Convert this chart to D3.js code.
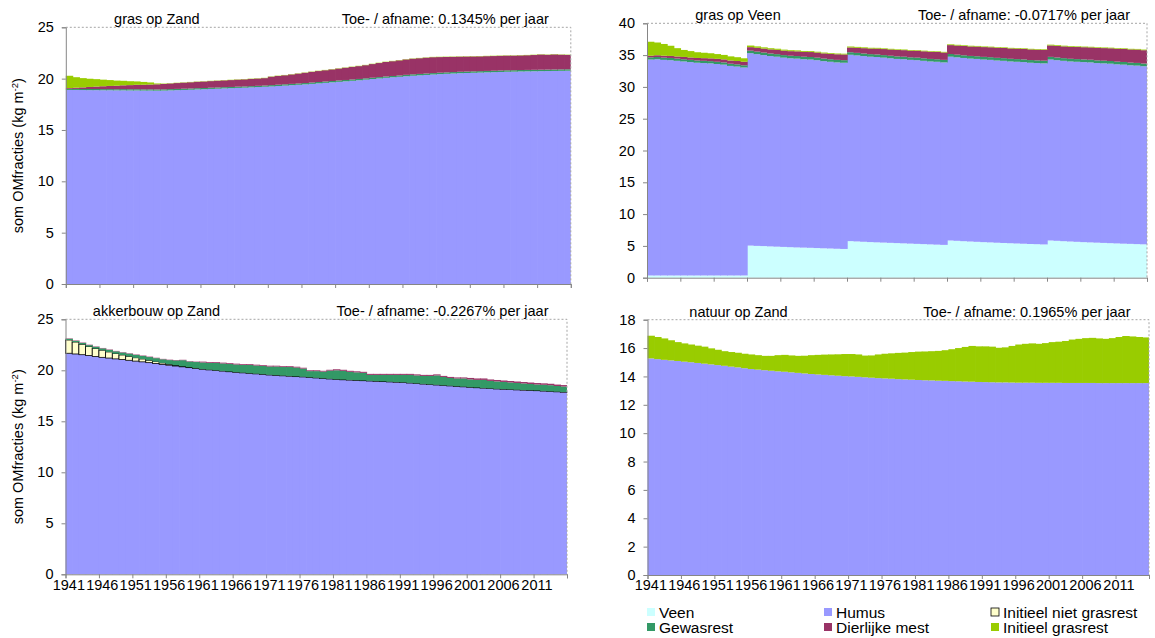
<!DOCTYPE html>
<html><head><meta charset="utf-8">
<script src="https://cdn.jsdelivr.net/npm/d3@7"></script>
<style>
body{margin:0;background:#fff}
text{font-family:"Liberation Sans",Arial,sans-serif;fill:#000}
</style>
</head><body>
<svg id="chart" width="1155" height="638"></svg>
<script>
// ---------- categories ----------
const years = [1941,1942,1943,1944,1945,1946,1947,1948,1949,1950,1951,1952,1953,1954,1955,1956,1957,1958,1959,1960,
1961,1962,1963,1964,1965,1966,1967,1968,1969,1970,1971,1972,1973,1974,1975,1976,1977,1978,1979,1980,
1981,1982,1983,1984,1985,1986,1987,1988,1989,1990,1991,1992,1993,1994,1995,1996,1997,1998,1999,2000,
2001,2002,2003,2004,2005,2006,2007,2008,2009,2010,2011,2012,2013,2014,2015];
const xTickLabels = [1941,1946,1951,1956,1961,1966,1971,1976,1981,1986,1991,1996,2001,2006,2011];
const seriesNames = ["Veen","Humus","Initieel niet grasrest","Gewasrest","Dierlijke mest","Initieel grasrest"];
const seriesColors = ["#CCFFFF","#9999FF","#FFFFCC","#339966","#993366","#99CC00"];
const yTicksZand = [0,5,10,15,20,25];
const yTicksVeen = [0,5,10,15,20,25,30,35,40];
const yTicksNatuur = [0,2,4,6,8,10,12,14,16,18];

// ---------- gras op Zand ----------
const zgHumus = [18.90,18.90,18.89,18.88,18.88,18.87,18.87,18.86,18.86,18.85,18.85,18.84,18.84,18.83,18.84,18.86,18.88,18.90,18.92,18.95,
18.97,19.00,19.02,19.05,19.07,19.10,19.12,19.15,19.18,19.21,19.24,19.28,19.32,19.36,19.40,19.44,19.49,19.54,19.59,19.64,
19.69,19.74,19.79,19.84,19.90,19.96,20.02,20.08,20.13,20.18,20.23,20.28,20.32,20.36,20.40,20.44,20.47,20.50,20.53,20.55,
20.57,20.59,20.61,20.63,20.65,20.67,20.68,20.70,20.71,20.72,20.73,20.74,20.75,20.76,20.77];
const zgGewas = [0.10,0.10,0.10,0.11,0.11,0.11,0.11,0.11,0.12,0.12,0.12,0.12,0.12,0.12,0.12,0.12,0.12,0.12,0.12,0.12,
0.12,0.12,0.12,0.12,0.12,0.12,0.12,0.12,0.12,0.12,0.13,0.13,0.13,0.13,0.13,0.13,0.13,0.13,0.13,0.13,
0.13,0.13,0.13,0.13,0.13,0.13,0.13,0.13,0.13,0.13,0.14,0.14,0.14,0.14,0.14,0.14,0.14,0.14,0.14,0.14,
0.14,0.14,0.14,0.14,0.14,0.14,0.14,0.14,0.14,0.14,0.14,0.14,0.14,0.14,0.14];
const zgMest = [0.08,0.12,0.16,0.20,0.24,0.28,0.31,0.34,0.37,0.40,0.43,0.45,0.47,0.50,0.52,0.55,0.57,0.59,0.61,0.62,
0.63,0.64,0.65,0.66,0.67,0.68,0.69,0.70,0.71,0.72,0.82,0.85,0.88,0.92,0.96,1.00,1.04,1.07,1.10,1.13,
1.16,1.19,1.22,1.25,1.28,1.33,1.37,1.41,1.44,1.47,1.50,1.52,1.53,1.54,1.55,1.52,1.50,1.48,1.47,1.46,
1.45,1.44,1.44,1.43,1.43,1.43,1.42,1.42,1.43,1.44,1.48,1.44,1.47,1.43,1.40];
const zgGras = [1.20,1.02,0.90,0.80,0.72,0.64,0.57,0.50,0.44,0.38,0.33,0.27,0.20,0.08,0.04,0.03,0.03,0.03,0.03,0.03,
0.03,0.03,0.03,0.03,0.03,0.03,0.03,0.03,0.03,0.03,0.03,0.03,0.03,0.03,0.03,0.03,0.03,0.03,0.03,0.03,
0.03,0.03,0.03,0.03,0.03,0.03,0.03,0.03,0.03,0.03,0.03,0.03,0.03,0.03,0.03,0.03,0.03,0.03,0.03,0.03,
0.03,0.03,0.03,0.03,0.03,0.03,0.03,0.03,0.03,0.03,0.03,0.03,0.03,0.03,0.03];

// ---------- gras op Veen ----------
const vgVeen = [0.35,0.35,0.35,0.35,0.35,0.35,0.35,0.35,0.35,0.35,0.35,0.35,0.35,0.35,0.35,
5.05,5.00,4.97,4.92,4.88,4.84,4.80,4.76,4.73,4.70,4.66,4.62,4.59,4.55,4.52,
5.75,5.70,5.65,5.60,5.56,5.52,5.48,5.44,5.40,5.36,5.32,5.28,5.24,5.20,5.16,
5.85,5.80,5.74,5.69,5.64,5.59,5.55,5.50,5.46,5.42,5.38,5.34,5.30,5.27,5.23,
5.85,5.80,5.74,5.69,5.64,5.59,5.55,5.51,5.47,5.43,5.39,5.35,5.32,5.28,5.25];
const vgHumus = [33.95,34.00,33.90,33.85,33.75,33.65,33.55,33.45,33.40,33.35,33.25,33.15,32.95,32.85,32.70,
30.25,30.15,30.03,29.93,29.87,29.76,29.70,29.69,29.62,29.60,29.54,29.43,29.36,29.30,29.28,
29.30,29.25,29.20,29.15,29.14,29.08,29.02,28.96,28.95,28.89,28.88,28.82,28.76,28.75,28.69,
28.90,28.85,28.81,28.76,28.76,28.71,28.70,28.65,28.64,28.58,28.57,28.56,28.50,28.48,28.47,
28.45,28.40,28.36,28.31,28.31,28.31,28.30,28.24,28.23,28.22,28.16,28.15,28.08,28.07,28.00];
const vgGewas = [0.35,0.35,0.35,0.35,0.35,0.35,0.35,0.35,0.35,0.35,0.35,0.35,0.35,0.35,0.35,
0.40,0.40,0.40,0.40,0.40,0.40,0.40,0.40,0.40,0.40,0.40,0.40,0.40,0.40,0.40,
0.40,0.40,0.40,0.40,0.40,0.40,0.40,0.40,0.40,0.40,0.40,0.40,0.40,0.40,0.40,
0.42,0.42,0.42,0.42,0.42,0.42,0.42,0.42,0.42,0.42,0.42,0.42,0.42,0.42,0.42,
0.42,0.42,0.42,0.42,0.42,0.42,0.42,0.42,0.42,0.42,0.42,0.42,0.42,0.42,0.42];
const vgMest = [0.25,0.28,0.30,0.32,0.34,0.36,0.38,0.40,0.42,0.44,0.46,0.48,0.50,0.52,0.55,
0.55,0.60,0.62,0.65,0.68,0.70,0.72,0.74,0.76,0.78,0.80,0.82,0.85,0.88,0.90,
0.75,0.80,0.84,0.88,0.92,0.95,0.98,1.00,1.03,1.05,1.08,1.10,1.12,1.14,1.16,
1.40,1.43,1.46,1.49,1.52,1.54,1.56,1.58,1.60,1.62,1.64,1.65,1.67,1.68,1.70,
1.80,1.82,1.85,1.88,1.90,1.92,1.94,1.96,1.98,2.00,2.02,2.05,2.07,2.10,2.10];
const vgGras = [2.20,2.00,1.85,1.60,1.30,1.10,1.00,0.90,0.85,0.80,0.75,0.70,0.65,0.60,0.55,
0.25,0.22,0.20,0.18,0.17,0.16,0.15,0.15,0.14,0.14,0.13,0.13,0.12,0.12,0.12,
0.15,0.14,0.13,0.12,0.12,0.11,0.11,0.10,0.10,0.10,0.10,0.10,0.10,0.10,0.10,
0.12,0.12,0.11,0.11,0.10,0.10,0.10,0.10,0.10,0.10,0.10,0.10,0.10,0.10,0.10,
0.12,0.12,0.11,0.11,0.10,0.10,0.10,0.10,0.10,0.10,0.10,0.10,0.10,0.10,0.10];

// ---------- akkerbouw op Zand ----------
const zaHumus = [21.67,21.60,21.53,21.45,21.36,21.27,21.20,21.12,21.05,20.98,20.90,20.83,20.75,20.67,20.58,20.50,20.42,20.34,20.26,20.18,
20.10,20.04,19.98,19.92,19.86,19.80,19.75,19.70,19.65,19.60,19.54,19.50,19.46,19.42,19.38,19.35,19.30,19.25,19.20,19.15,
19.10,19.07,19.04,19.01,18.98,18.95,18.92,18.89,18.86,18.83,18.80,18.75,18.70,18.65,18.60,18.56,18.51,18.47,18.42,18.38,
18.33,18.29,18.25,18.21,18.17,18.14,18.11,18.08,18.05,18.03,18.00,17.96,17.92,17.89,17.85];
const zaInit = [1.30,1.17,1.02,0.88,0.78,0.70,0.60,0.52,0.45,0.39,0.33,0.28,0.23,0.18,0.14,0.10,0.07,0.05,0.04,0.03,
0.02,0.02,0.02,0.02,0.02,0.02,0.02,0.02,0.02,0.02,0.02,0.02,0.02,0.02,0.02,0.02,0.02,0.02,0.02,0.02,
0.02,0.02,0.02,0.02,0.02,0.02,0.02,0.02,0.02,0.02,0.02,0.02,0.02,0.02,0.02,0.02,0.02,0.02,0.02,0.02,
0.02,0.02,0.02,0.02,0.02,0.02,0.02,0.02,0.02,0.02,0.02,0.02,0.02,0.02,0.02];
const zaGewas = [0.12,0.12,0.13,0.14,0.16,0.18,0.20,0.22,0.24,0.26,0.28,0.30,0.32,0.34,0.36,0.40,0.48,0.60,0.56,0.60,
0.65,0.66,0.72,0.73,0.74,0.75,0.75,0.80,0.80,0.80,0.81,0.85,0.84,0.88,0.87,0.80,0.60,0.65,0.65,0.80,
0.88,0.86,0.79,0.77,0.75,0.58,0.61,0.64,0.67,0.70,0.73,0.78,0.78,0.78,0.83,0.92,0.82,0.76,0.76,0.80,
0.76,0.75,0.79,0.73,0.72,0.70,0.68,0.66,0.64,0.61,0.59,0.60,0.60,0.55,0.54];
const zaMest = [0.04,0.04,0.04,0.04,0.04,0.04,0.04,0.04,0.04,0.04,0.04,0.04,0.04,0.04,0.04,0.04,0.04,0.04,0.04,0.04,
0.08,0.08,0.08,0.08,0.08,0.08,0.08,0.08,0.08,0.08,0.08,0.08,0.08,0.08,0.08,0.08,0.08,0.08,0.08,0.08,
0.10,0.10,0.10,0.10,0.10,0.10,0.10,0.10,0.10,0.10,0.10,0.10,0.10,0.10,0.10,0.10,0.10,0.10,0.10,0.10,
0.14,0.14,0.14,0.14,0.14,0.14,0.14,0.14,0.14,0.14,0.14,0.14,0.14,0.14,0.14];

// ---------- natuur op Zand ----------
const znHumus = [15.27,15.22,15.17,15.13,15.09,15.04,15.00,14.95,14.90,14.85,14.80,14.75,14.69,14.64,14.58,14.52,14.48,14.44,14.40,14.36,
14.33,14.29,14.25,14.21,14.17,14.14,14.11,14.08,14.05,14.02,14.00,13.97,13.94,13.91,13.88,13.86,13.84,13.81,13.79,13.77,
13.75,13.73,13.72,13.70,13.69,13.67,13.66,13.64,13.63,13.61,13.60,13.59,13.58,13.58,13.57,13.56,13.56,13.56,13.55,13.55,
13.55,13.55,13.54,13.54,13.54,13.54,13.54,13.53,13.53,13.53,13.53,13.53,13.53,13.53,13.53];
const znGras = [1.60,1.56,1.51,1.42,1.33,1.29,1.25,1.22,1.20,1.13,1.08,1.03,1.03,1.03,1.02,1.03,1.02,1.01,1.05,1.14,
1.19,1.19,1.20,1.25,1.33,1.38,1.43,1.47,1.51,1.56,1.58,1.58,1.53,1.57,1.67,1.74,1.79,1.85,1.89,1.95,
2.00,2.03,2.06,2.10,2.16,2.25,2.34,2.44,2.52,2.51,2.52,2.51,2.44,2.47,2.58,2.69,2.74,2.77,2.75,2.80,
2.87,2.90,2.96,3.06,3.11,3.16,3.18,3.15,3.12,3.17,3.25,3.32,3.29,3.25,3.22];

const panels = [
  {title:"gras op Zand", note:"Toe- / afname: 0.1345% per jaar", yTicks:yTicksZand,
   data:{"Humus":zgHumus,"Gewasrest":zgGewas,"Dierlijke mest":zgMest,"Initieel grasrest":zgGras},
   box:[65.8,27.3,570.8,284], yTitle:true, xLabels:false},
  {title:"gras op Veen", note:"Toe- / afname: -0.0717% per jaar", yTicks:yTicksVeen,
   data:{"Veen":vgVeen,"Humus":vgHumus,"Gewasrest":vgGewas,"Dierlijke mest":vgMest,"Initieel grasrest":vgGras},
   box:[647,23.3,1147,277.7], yTitle:false, xLabels:false},
  {title:"akkerbouw op Zand", note:"Toe- / afname: -0.2267% per jaar", yTicks:yTicksZand,
   data:{"Humus":zaHumus,"Initieel niet grasrest":zaInit,"Gewasrest":zaGewas,"Dierlijke mest":zaMest},
   box:[65.5,319.3,567,574.3], yTitle:true, xLabels:true},
  {title:"natuur op Zand", note:"Toe- / afname: 0.1965% per jaar", yTicks:yTicksNatuur,
   data:{"Humus":znHumus,"Initieel grasrest":znGras},
   box:[647.5,319.7,1149,575], yTitle:false, xLabels:true}
];

const svg = d3.select("#chart");
const FS = 14.5;
const axisGray = "#868686";

function drawPanel(p){
  const [x0,y0,x1,y1] = p.box;
  const g = svg.append("g");
  const x = d3.scaleBand().domain(years).range([x0,x1]).padding(0);
  const yMax = p.yTicks[p.yTicks.length-1];
  const y = d3.scaleLinear().domain([0,yMax]).range([y1,y0]);
  const rows = years.map((yr,i)=>{
    const r = {year:yr};
    seriesNames.forEach(n=>{ r[n] = p.data[n] ? p.data[n][i] : 0; });
    return r;
  });
  const stacked = d3.stack().keys(seriesNames)(rows);
  const bw = x.bandwidth();
  stacked.forEach((layer,k)=>{
    const name = seriesNames[k];
    if(!p.data[name]) return;
    const outlined = name === "Initieel niet grasrest";
    g.append("g").selectAll("rect").data(layer).join("rect")
      .attr("x",d=>x(d.data.year))
      .attr("width",(d,i)=> outlined ? bw : (i===layer.length-1 ? bw : bw+0.7))
      .attr("y",d=>y(d[1]))
      .attr("height",d=>Math.max(0,y(d[0])-y(d[1])))
      .attr("fill",seriesColors[k])
      .attr("stroke",outlined ? "#000" : "none")
      .attr("stroke-width",outlined ? 0.8 : 0);
  });

  // plot area border (top & right dashed)
  g.append("path").attr("d",`M${x0},${y0}H${x1}V${y1}`)
    .attr("fill","none").attr("stroke","#a6a6a6").attr("stroke-width",1).attr("stroke-dasharray","2,2");

  // y axis
  const ya = g.append("g").attr("transform",`translate(${x0},0)`)
    .call(d3.axisLeft(y).tickValues(p.yTicks).tickSize(4).tickPadding(8).tickFormat(d3.format("d")));
  ya.select(".domain").attr("stroke",axisGray);
  ya.selectAll(".tick line").attr("stroke",axisGray);
  ya.selectAll("text").attr("font-size",FS).attr("font-family","Liberation Sans, Arial, sans-serif").attr("fill","#000");

  // x axis tick marks at category boundaries
  const xl = d3.scaleLinear().domain([0,years.length]).range([x0,x1]);
  const tickIdx = d3.range(0,years.length+1,5);
  const xa = g.append("g").attr("transform",`translate(0,${y1})`)
    .call(d3.axisBottom(xl).tickValues(tickIdx).tickSize(4).tickFormat(""));
  xa.select(".domain").attr("stroke",axisGray);
  xa.selectAll(".tick line").attr("stroke",axisGray);

  if(p.xLabels){
    const xt = g.append("g").attr("transform",`translate(0,${y1})`)
      .call(d3.axisBottom(x).tickValues(xTickLabels).tickSize(0).tickPadding(5));
    xt.select(".domain").remove();
    xt.selectAll("text").attr("font-size",FS).attr("font-family","Liberation Sans, Arial, sans-serif").attr("fill","#000");
  }

  g.append("text").attr("x",x0+91).attr("y",y0-3).attr("text-anchor","middle")
    .attr("font-size",FS).text(p.title);
  g.append("text").attr("x",x0+483).attr("y",y0-3).attr("text-anchor","end")
    .attr("font-size",FS).text(p.note);

  if(p.yTitle){
    const t = g.append("text")
      .attr("transform",`translate(23,${(y0+y1)/2}) rotate(-90)`)
      .attr("text-anchor","middle").attr("font-size",FS);
    t.append("tspan").text("som OMfracties (kg m");
    t.append("tspan").attr("font-size",9.5).attr("dy",-5).text("-2");
    t.append("tspan").attr("dy",5).text(")");
  }
}
panels.forEach(drawPanel);

// legend
const legCols = [647,824,991];
const legRows = [612,627];
const lg = svg.append("g");
seriesNames.forEach((n,i)=>{
  const cx = legCols[i%3], cy = legRows[Math.floor(i/3)];
  lg.append("rect").attr("x",cx).attr("y",cy-4).attr("width",8).attr("height",8)
    .attr("fill",seriesColors[i])
    .attr("stroke", n==="Initieel niet grasrest" ? "#000" : "none").attr("stroke-width",0.8);
  lg.append("text").attr("x",cx+12).attr("y",cy+5.5).attr("font-size",15.5).text(n);
});
</script>
</body></html>
